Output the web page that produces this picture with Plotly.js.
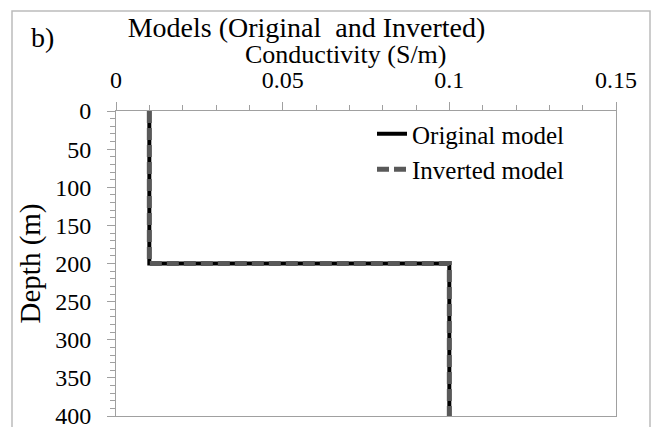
<!DOCTYPE html>
<html>
<head>
<meta charset="utf-8">
<script src="https://cdn.plot.ly/plotly-3.0.1.min.js"></script>
<style>
  html, body { margin: 0; padding: 0; background: #ffffff; }
  #chart { width: 655px; height: 427px; }
</style>
</head>
<body>
<div id="chart"></div>
<script>
// ---- data ----
const originalConductivity = [0.01, 0.01, 0.1, 0.1];   // S/m
const originalDepth        = [0, 200, 200, 400];        // m
const invertedConductivity = [0.01, 0.01, 0.1, 0.1];   // S/m
const invertedDepth        = [0, 200, 200, 400];        // m
const seriesNames = ["Original model", "Inverted model"];
const xTickVals = [0, 0.05, 0.1, 0.15];
const xTickText = ["0", "0.05", "0.1", "0.15"];
const yTickVals = [0, 50, 100, 150, 200, 250, 300, 350, 400];
const yTickText = ["0", "50", "100", "150", "200", "250", "300", "350", "400"];
const chartTitle = "Models (Original\u00a0 and Inverted)";
const xTitle = "Conductivity (S/m)";
const yTitle = "Depth (m)";
const panelLabel = "b)";

const FONT = "'Liberation Serif', 'Times New Roman', serif";
const AXIS = "#a0a0a0";

const traces = [
  {
    x: originalConductivity, y: originalDepth, name: seriesNames[0],
    type: "scatter", mode: "lines",
    line: { color: "#000000", width: 4 }
  },
  {
    x: invertedConductivity, y: invertedDepth, name: seriesNames[1],
    type: "scatter", mode: "lines",
    line: { color: "#595959", width: 5, dash: "12px,5px" }
  }
];

const W = 655, H = 427;
const L = 116, R = 39, T = 111, B = 11;
const pw = W - L - R, ph = H - T - B;
const px = v => (v - L) / pw;          // pixel -> paper x
const py = v => (H - B - v) / ph;      // pixel -> paper y

const layout = {
  width: W, height: H,
  margin: { l: L, r: R, t: T, b: B, pad: 0 },
  paper_bgcolor: "#ffffff", plot_bgcolor: "#ffffff",
  font: { family: FONT, color: "#000000", size: 25 },
  showlegend: true,
  title: {
    text: chartTitle,
    font: { family: FONT, size: 28, color: "#000000" },
    xref: "container", x: 306.5 / W, xanchor: "center",
    yref: "container", y: 1 - 17 / H, yanchor: "top"
  },
  xaxis: {
    side: "top",
    range: [0, 0.15],
    tickvals: xTickVals, ticktext: xTickText,
    ticks: "outside", ticklen: 8, tickwidth: 1, tickcolor: AXIS,
    ticklabelstandoff: 4,
    minor: { dtick: 0.01, ticks: "outside", ticklen: 5, tickcolor: AXIS, showgrid: false },
    showline: true, linecolor: AXIS, linewidth: 1, mirror: true,
    showgrid: false, zeroline: false,
    tickfont: { family: FONT, size: 24, color: "#000000" },
    automargin: false, fixedrange: true
  },
  yaxis: {
    range: [400, 0],
    tickvals: yTickVals, ticktext: yTickText,
    ticks: "outside", ticklen: 8, tickwidth: 1, tickcolor: AXIS,
    ticklabelstandoff: 11,
    ticklabeloverflow: "allow",
    minor: { dtick: 10, ticks: "outside", ticklen: 5, tickcolor: AXIS, showgrid: false },
    showline: true, linecolor: AXIS, linewidth: 1, mirror: true,
    showgrid: false, zeroline: false,
    tickfont: { family: FONT, size: 24, color: "#000000" },
    title: {
      text: yTitle,
      font: { family: FONT, size: 29, color: "#000000" },
      standoff: 6
    },
    automargin: false, fixedrange: true
  },
  legend: {
    x: px(372), xanchor: "left",
    y: py(111), yanchor: "top",
    bgcolor: "rgba(0,0,0,0)", borderwidth: 0,
    font: { family: FONT, size: 25, color: "#000000" },
    traceorder: "normal"
  },
  shapes: [
    {
      type: "rect", xref: "paper", yref: "paper",
      x0: px(12), x1: px(650), y0: py(11), y1: py(445),
      line: { color: "#bcbcbc", width: 1.5 }, fillcolor: "rgba(0,0,0,0)",
      layer: "below"
    }
  ],
  annotations: [
    {
      text: panelLabel, xref: "paper", yref: "paper",
      x: px(29), xanchor: "left", y: py(20), yanchor: "top",
      showarrow: false, font: { family: FONT, size: 28, color: "#000000" }
    },
    {
      text: xTitle, xref: "paper", yref: "paper",
      x: px(345.5), xanchor: "center", y: py(54), yanchor: "middle",
      showarrow: false, font: { family: FONT, size: 26, color: "#000000" }
    }
  ]
};

Plotly.newPlot("chart", traces, layout, { displayModeBar: false, staticPlot: true });
</script>
</body>
</html>
